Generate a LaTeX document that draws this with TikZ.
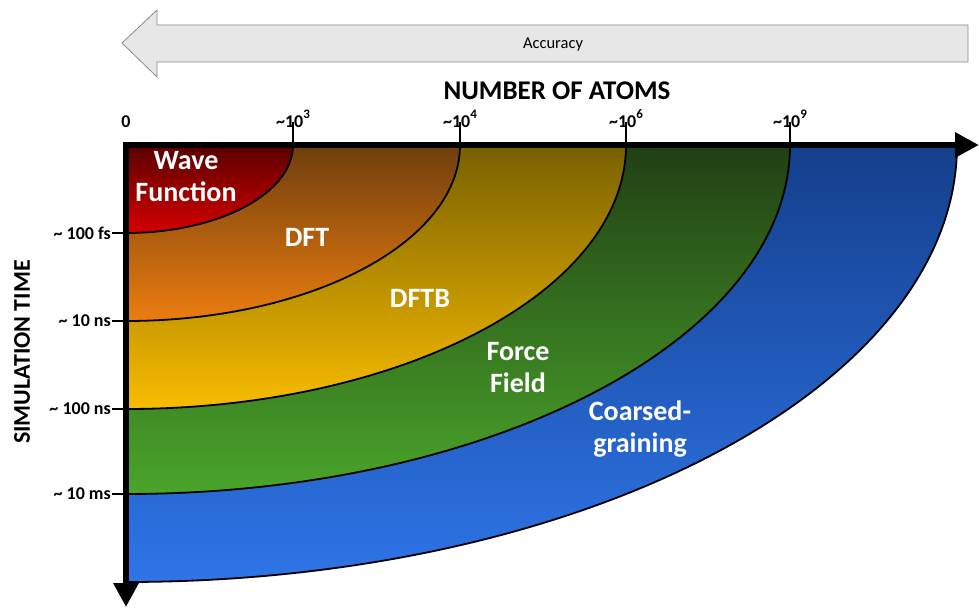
\documentclass[tikz,border=0pt]{standalone}
\usepackage{fontspec}
\setmainfont{Carlito}
\usetikzlibrary{arrows.meta}
\definecolor{wfT}{HTML}{5A0000}\definecolor{wfB}{HTML}{D40000}
\definecolor{dftT}{HTML}{6E3E0C}\definecolor{dftB}{HTML}{EC7D10}
\definecolor{dftbT}{HTML}{786000}\definecolor{dftbB}{HTML}{F8BC00}
\definecolor{ffT}{HTML}{213F14}\definecolor{ffB}{HTML}{4AA52A}
\definecolor{cgT}{HTML}{143F8C}\definecolor{cgB}{HTML}{2E75E8}
\definecolor{accfill}{HTML}{E7E7E7}\definecolor{accdraw}{HTML}{8A8A8A}
\newcommand{\supnum}[1]{\raisebox{0.5em}{\fontsize{13}{15}\selectfont #1}}
\tikzset{
  region/.style={draw=black, line width=1.8pt},
  axis/.style={line width=6pt},
  tick/.style={line width=1.6pt},
  reglabel/.style={text=white, font=\bfseries\fontsize{28}{32}\selectfont, align=center, inner sep=0pt},
  ticklabel/.style={font=\bfseries\fontsize{18}{21}\selectfont, inner sep=1pt},
}
\begin{document}
\begin{tikzpicture}[x=1pt,y=-1pt]
\useasboundingbox (0,0) rectangle (979,610);
\coordinate (O) at (126,145);
% regions, largest first
\shade[top color=cgT, bottom color=cgB] (O) -- (957,145) arc[start angle=0,end angle=90,x radius=831,y radius=437] -- cycle;
\draw[region] (957,145) arc[start angle=0,end angle=90,x radius=831,y radius=437];
\shade[top color=ffT, bottom color=ffB] (O) -- (790,145) arc[start angle=0,end angle=90,x radius=664,y radius=349] -- cycle;
\draw[region] (790,145) arc[start angle=0,end angle=90,x radius=664,y radius=349];
\shade[top color=dftbT, bottom color=dftbB] (O) -- (626,145) arc[start angle=0,end angle=90,x radius=500,y radius=264] -- cycle;
\draw[region] (626,145) arc[start angle=0,end angle=90,x radius=500,y radius=264];
\shade[top color=dftT, bottom color=dftB] (O) -- (460,145) arc[start angle=0,end angle=90,x radius=334,y radius=176] -- cycle;
\draw[region] (460,145) arc[start angle=0,end angle=90,x radius=334,y radius=176];
\shade[top color=wfT, bottom color=wfB] (O) -- (293,145) arc[start angle=0,end angle=90,x radius=167,y radius=88] -- cycle;
\draw[region] (293,145) arc[start angle=0,end angle=90,x radius=167,y radius=88];
% ticks
\foreach \x/\n in {293/a,460/b,626/c,790/d}{
  \coordinate (tt\n) at (\x,122);
  \coordinate (tb\n) at (\x,145);
  \draw[tick] (tt\n) -- (tb\n);
}
\foreach \y/\n in {233/a,321/b,409/c,494/d}{
  \coordinate (lt\n) at (112,\y);
  \coordinate (lb\n) at (126,\y);
  \draw[tick] (lt\n) -- (lb\n);
}
% axes
\coordinate (xend) at (979,145);
\coordinate (yend) at (126,607);
\draw[axis, -{Triangle[length=24pt,width=24pt]}] (123,145) -- (xend);
\draw[axis, -{Triangle[length=24pt,width=24pt]}] (O) -- (yend);
% tick labels
\node[ticklabel, anchor=base] (l0) at (126,127) {0};
\node[ticklabel, anchor=base] (l3) at (293,127) {\textasciitilde10\supnum{3}};
\node[ticklabel, anchor=base] (l4) at (460,127) {\textasciitilde10\supnum{4}};
\node[ticklabel, anchor=base] (l6) at (626,127) {\textasciitilde10\supnum{6}};
\node[ticklabel, anchor=base] (l9) at (790,127) {\textasciitilde10\supnum{9}};
\node[ticklabel, anchor=east] (t1) at (lta) {\textasciitilde{} 100 fs};
\node[ticklabel, anchor=east] (t2) at (ltb) {\textasciitilde{} 10 ns};
\node[ticklabel, anchor=east] (t3) at (ltc) {\textasciitilde{} 100 ns};
\node[ticklabel, anchor=east] (t4) at (ltd) {\textasciitilde{} 10 ms};
% titles
\node[font=\bfseries\fontsize{27}{30}\selectfont, inner sep=0pt] (xt) at (557,91) {NUMBER OF ATOMS};
\node[font=\bfseries\fontsize{24}{28}\selectfont, inner sep=0pt, rotate=90] (yt) at (22,352) {SIMULATION TIME};
% region labels
\node[reglabel] (wf) at (186,177) {Wave\\Function};
\node[reglabel] (dft) at (307,237) {DFT};
\node[reglabel] (dftb) at (420,298) {DFTB};
\node[reglabel] (ff) at (518,368) {Force\\Field};
\node[reglabel] (cg) at (640,429) {Coarsed-\\graining};
% accuracy arrow
\draw[accdraw, fill=accfill, line width=0.8pt] (122,43) -- (157,10) -- (157,25) -- (968,25) -- (968,62) -- (157,62) -- (157,77) -- cycle;
\node[font=\fontsize{16.5}{19}\selectfont] (acc) at (553,45) {Accuracy};
\end{tikzpicture}
\end{document}
